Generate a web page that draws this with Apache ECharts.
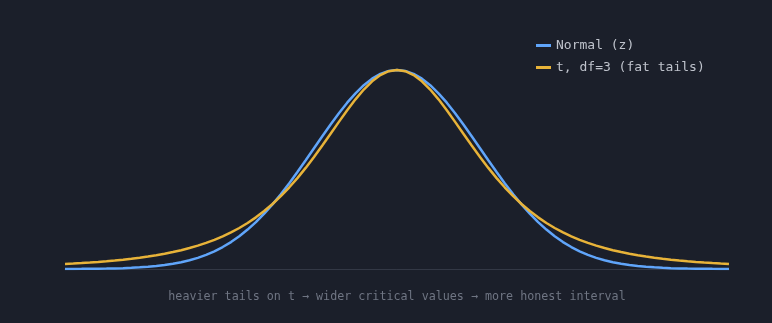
<!DOCTYPE html>
<html><head><meta charset="utf-8">
<script src="https://cdn.jsdelivr.net/npm/echarts@6/dist/echarts.min.js"></script>
<style>html,body{margin:0;padding:0;background:#1b1f2a;}#c{width:772px;height:323px;}</style>
</head><body><div id="c"></div>
<script>
const xValues = [-4,-3.9,-3.8,-3.7,-3.6,-3.5,-3.4,-3.3,-3.2,-3.1,-3,-2.9,-2.8,-2.7,-2.6,-2.5,-2.4,-2.3,-2.2,-2.1,-2,-1.9,-1.8,-1.7,-1.6,-1.5,-1.4,-1.3,-1.2,-1.1,-1,-0.9,-0.8,-0.7,-0.6,-0.5,-0.4,-0.3,-0.2,-0.1,0,0.1,0.2,0.3,0.4,0.5,0.6,0.7,0.8,0.9,1,1.1,1.2,1.3,1.4,1.5,1.6,1.7,1.8,1.9,2,2.1,2.2,2.3,2.4,2.5,2.6,2.7,2.8,2.9,3,3.1,3.2,3.3,3.4,3.5,3.6,3.7,3.8,3.9,4];
const normalValues = [0.0003,0.0005,0.0007,0.0011,0.0015,0.0022,0.0031,0.0043,0.0060,0.0082,0.0111,0.0149,0.0198,0.0261,0.0340,0.0439,0.0561,0.0710,0.0889,0.1103,0.1353,0.1645,0.1979,0.2357,0.2780,0.3247,0.3753,0.4296,0.4868,0.5461,0.6065,0.6670,0.7261,0.7827,0.8353,0.8825,0.9231,0.9560,0.9802,0.9950,1,0.9950,0.9802,0.9560,0.9231,0.8825,0.8353,0.7827,0.7261,0.6670,0.6065,0.5461,0.4868,0.4296,0.3753,0.3247,0.2780,0.2357,0.1979,0.1645,0.1353,0.1103,0.0889,0.0710,0.0561,0.0439,0.0340,0.0261,0.0198,0.0149,0.0111,0.0082,0.0060,0.0043,0.0031,0.0022,0.0015,0.0011,0.0007,0.0005,0.0003];
const tValues = [0.0249,0.0271,0.0296,0.0323,0.0353,0.0387,0.0425,0.0466,0.0513,0.0566,0.0625,0.0691,0.0766,0.0850,0.0945,0.1052,0.1173,0.1310,0.1464,0.1639,0.1837,0.2060,0.2311,0.2594,0.2911,0.3265,0.3658,0.4092,0.4565,0.5078,0.5625,0.6200,0.6793,0.7389,0.7972,0.8521,0.9013,0.9426,0.9739,0.9934,1,0.9934,0.9739,0.9426,0.9013,0.8521,0.7972,0.7389,0.6793,0.6200,0.5625,0.5078,0.4565,0.4092,0.3658,0.3265,0.2911,0.2594,0.2311,0.2060,0.1837,0.1639,0.1464,0.1310,0.1173,0.1052,0.0945,0.0850,0.0766,0.0691,0.0625,0.0566,0.0513,0.0466,0.0425,0.0387,0.0353,0.0323,0.0296,0.0271,0.0249];
const seriesNames = ['Normal (z)', 't, df=3 (fat tails)'];
const caption = 'heavier tails on t → wider critical values → more honest interval';

const mono = '"DejaVu Sans Mono", monospace';
const chart = echarts.init(document.getElementById('c'));
chart.setOption({
  backgroundColor: '#1b1f2a',
  animation: false,
  grid: {left: 65, right: 43, top: 50, bottom: 54},
  legend: {
    orient: 'vertical', left: 531, top: 34, itemWidth: 15, itemHeight: 3, itemGap: 9,
    icon: 'rect',
    textStyle: {color: '#bfc3cc', fontFamily: mono, fontSize: 13},
    data: seriesNames
  },
  graphic: [{
    type: 'text', x: 397, y: 297,
    style: {text: caption, fill: '#6f7583', font: '11.7px "DejaVu Sans Mono", monospace',
            textAlign: 'center', textVerticalAlign: 'middle'}
  }],
  xAxis: {
    type: 'value', min: -4, max: 4,
    axisLine: {show: true, lineStyle: {color: '#333845', width: 1}},
    axisTick: {show: false}, axisLabel: {show: false}, splitLine: {show: false}
  },
  yAxis: {
    type: 'value', min: 0, max: 1.1,
    axisLine: {show: false}, axisTick: {show: false}, axisLabel: {show: false}, splitLine: {show: false}
  },
  series: [
    {name: seriesNames[0], type: 'line', smooth: false, showSymbol: false,
     data: xValues.map((x, i) => [x, normalValues[i]]),
     lineStyle: {color: '#60a5fa', width: 2.5}, itemStyle: {color: '#60a5fa'}},
    {name: seriesNames[1], type: 'line', smooth: false, showSymbol: false,
     data: xValues.map((x, i) => [x, tValues[i]]),
     lineStyle: {color: '#e8b339', width: 2.5}, itemStyle: {color: '#e8b339'}}
  ]
});
</script></body></html>
